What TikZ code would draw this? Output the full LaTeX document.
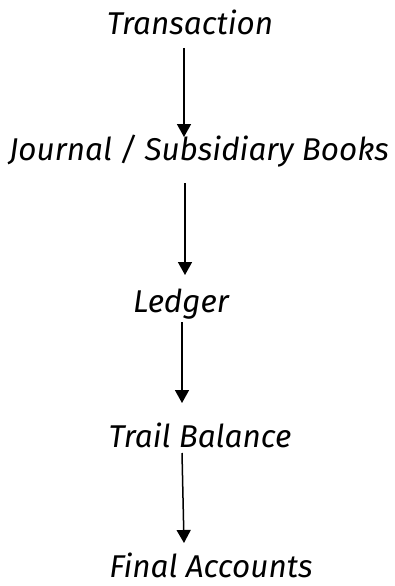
\documentclass[tikz,border=0pt]{standalone}
\usepackage{fontspec}
\setmainfont{Fira Sans}
\usetikzlibrary{arrows.meta,calc}
\tikzset{
  stage/.style={font=\itshape\fontsize{31.5}{36}\selectfont, inner sep=0pt, anchor=base},
  flow/.style={line width=1.5pt, -{Triangle[width=14pt,length=13pt]}}
}
\begin{document}
\begin{tikzpicture}[x=1pt,y=-1pt]
  \useasboundingbox (0,0) rectangle (395,586);
  % the posting stages, top to bottom
  \node[stage] (trans) at (190,35)  {Transaction};
  \node[stage] (jour)  at (199,160) {Journal / Subsidiary Books};
  \node[stage] (ledg)  at (181,312) {Ledger};
  \node[stage] (trail) at (200,447) {Trail Balance};
  \node[stage] (final) at (211,577) {Final Accounts};
  % arrows between the stages
  \draw[flow] ($(trans.base)+(-6,13)$) -- ($(jour.base)+(-15,-23)$);
  \draw[flow] ($(jour.base)+(-14,23)$) -- ($(ledg.base)+(4,-37)$);
  \draw[flow] ($(ledg.base)+(1,10)$) -- ($(trail.base)+(-18,-44)$);
  \draw[flow] ($(trail.base)+(-18,6)$) -- ($(final.base)+(-27,-34)$);
\end{tikzpicture}
\end{document}
